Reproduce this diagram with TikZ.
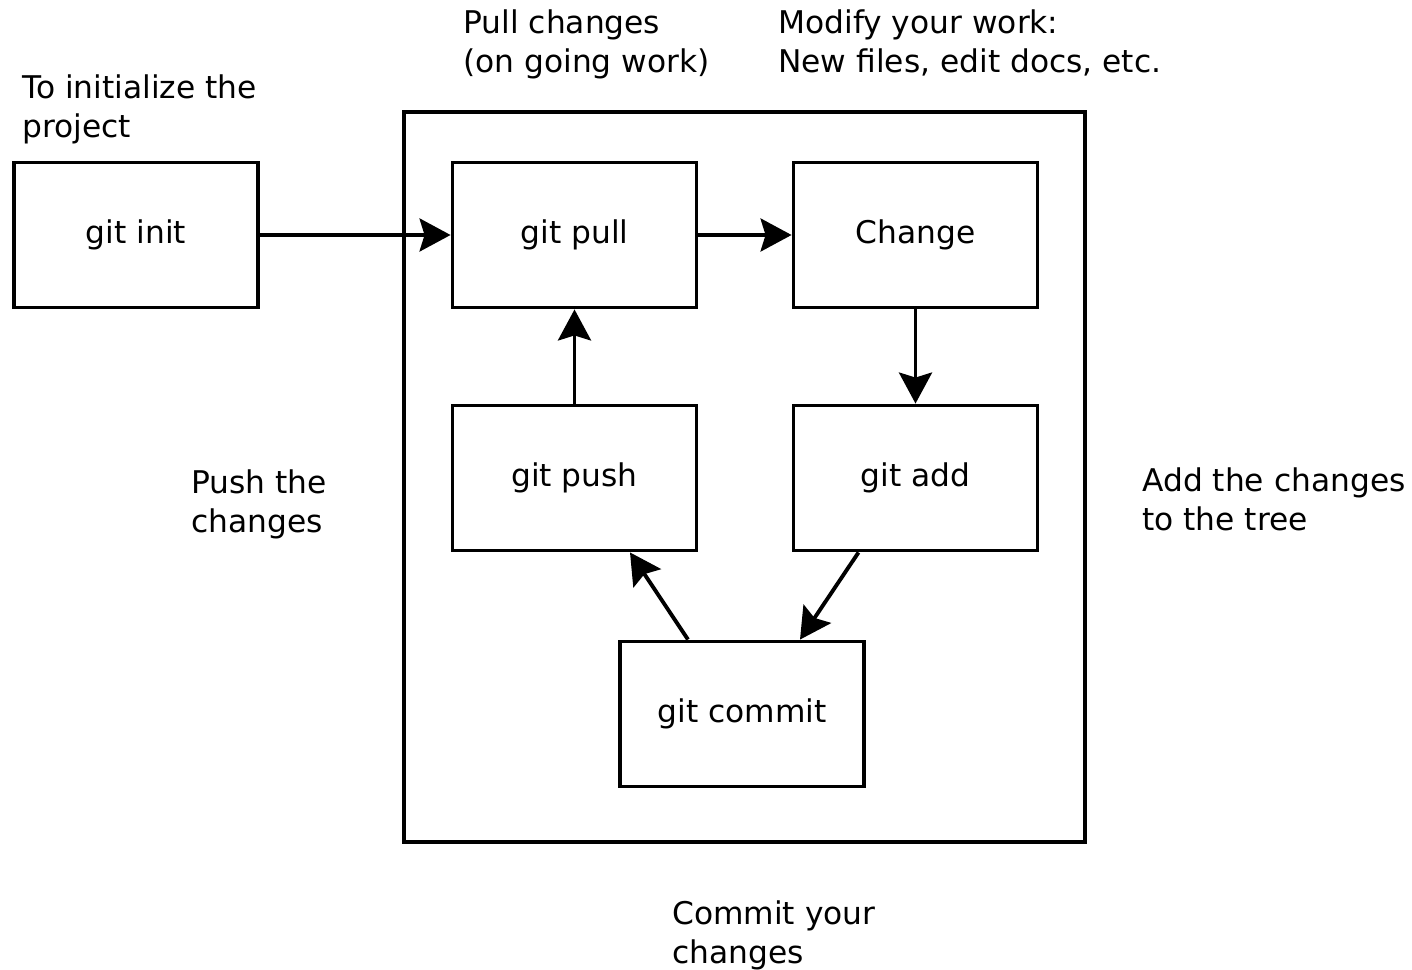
\documentclass[tikz,border=0pt]{standalone}
\usepackage{fontspec}
\setmainfont{DejaVu Sans}
\usetikzlibrary{arrows.meta}

\tikzset{
  gitbox/.style={draw, line width=2.2pt, minimum width=4.88cm, minimum height=2.9cm, inner sep=0pt},
  note/.style={anchor=north west, align=left, inner sep=0pt},
  flow/.style={line width=2.2pt, -{Stealth[length=0.62cm, width=0.66cm, inset=0.1cm]}}
}

\begin{document}
\begin{tikzpicture}[x=0.2mm, y=-0.2mm, font=\fontsize{17.8}{22.2}\selectfont]

    \useasboundingbox (0,0) rectangle (1412,970);

    % the working cycle
    \node[draw, line width=2.2pt, minimum width=13.62cm, minimum height=14.6cm] (cycle) at (744.5,477) {};

    \node[gitbox] (init)   at (136,235)   {git init};
    \node[gitbox] (pull)   at (574.5,235) {git pull};
    \node[gitbox] (change) at (915.5,235) {Change};
    \node[gitbox] (push)   at (574.5,478) {git push};
    \node[gitbox] (add)    at (915.5,478) {git add};
    \node[gitbox] (commit) at (742,714)   {git commit};

    \draw[flow] (init) -- (pull);
    \draw[flow] (pull) -- (change);
    \draw[flow] (change) -- (add);
    \draw[flow] ([xshift=-1.14cm]add.south) -- ([xshift=1.16cm]commit.north);
    \draw[flow] ([xshift=-1.08cm]commit.north) -- ([xshift=1.11cm]push.south);
    \draw[flow] (push) -- (pull);

    % comments around the cycle
    \node[note] (initnote)   at (22,74)   {To initialize the\\project};
    \node[note] (pullnote)   at (463,9)   {Pull changes\\(on going work)};
    \node[note] (changenote) at (778,9)   {Modify your work:\\New files, edit docs, etc.};
    \node[note] (pushnote)   at (191,469) {Push the\\changes};
    \node[note] (addnote)    at (1142,467) {Add the changes\\to the tree};
    \node[note] (commitnote) at (672,900) {Commit your\\changes};

\end{tikzpicture}
\end{document}
